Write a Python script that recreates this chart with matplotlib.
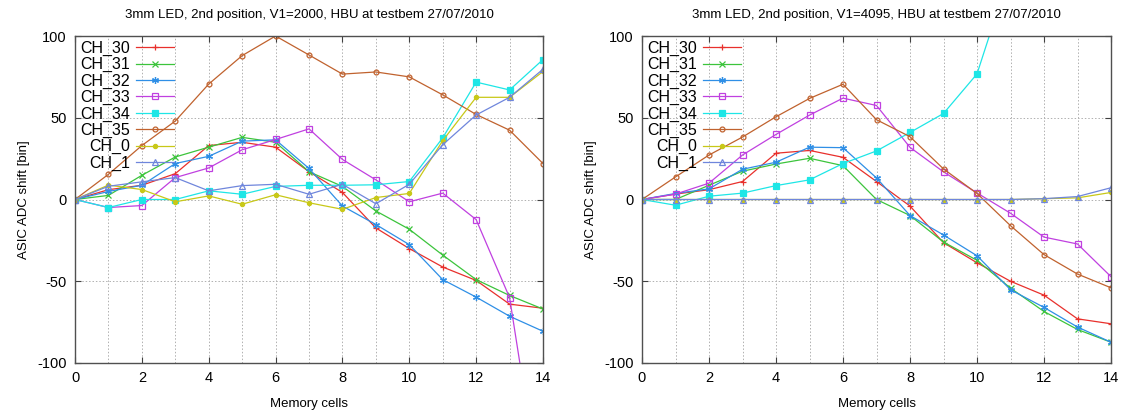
import matplotlib
matplotlib.use("Agg")
import matplotlib.pyplot as plt
from matplotlib.ticker import MultipleLocator

plt.rcParams['font.family'] = ['Liberation Sans', 'DejaVu Sans']
plt.rcParams['axes.unicode_minus'] = False

cells = list(range(15))
channels = ["CH_30", "CH_31", "CH_32", "CH_33", "CH_34", "CH_35", "CH_0", "CH_1"]

# Left panel: V1=2000
v2000_ch30 = [0, 6, 8.7, 15.8, 33, 35, 32, 17, 4.3, -17.4, -30, -41.3, -49.5, -64, -66.5]
v2000_ch31 = [0, 2.5, 14.8, 26, 32, 38, 35, 17, 8, -7, -18.2, -34, -49, -58.7, -67]
v2000_ch32 = [0, 4.9, 8.7, 22, 26.4, 35.7, 36.5, 19, -4, -15.3, -27.6, -49, -59.7, -71.4, -80.6]
v2000_ch33 = [0, -4.9, -3.7, 13.4, 19.3, 30.4, 36.7, 43.2, 24.5, 12, -1.4, 3.9, -12.3, -60, -190]
v2000_ch34 = [0, -4.9, 0, 0, 5.3, 3.2, 8, 8.7, 8.7, 9, 11, 37.7, 71.8, 67, 85.6]
v2000_ch35 = [0, 15.4, 33, 48, 70.6, 88, 100, 88.4, 76.7, 78, 75, 64, 52, 42.4, 22]
v2000_ch0 = [0, 8.8, 6.1, -1.4, 2.2, -2.9, 2.9, -2, -6, 1.2, 3.7, 36, 62.5, 62.5, 78.3]
v2000_ch1 = [0, 8.1, 10.8, 13.4, 5.3, 8.5, 9.3, 3.2, 9.3, -2.6, 9.3, 33.5, 51.7, 62.5, 79.7]

# Right panel: V1=4095
v4095_ch30 = [0, 3.3, 6, 11, 28.3, 30, 25.8, 11, -4, -26.4, -38.7, -50, -58.5, -73, -76]
v4095_ch31 = [0, 0, 8.7, 17.3, 21.7, 25.2, 20.7, 0, -9.8, -26, -37.2, -54.2, -68.5, -79.5, -87.3]
v4095_ch32 = [0, 3.7, 6.5, 18.5, 22.8, 32, 31.7, 13.2, -9.8, -21.7, -34.4, -55.2, -66, -78, -87.3]
v4095_ch33 = [0, 3.3, 10, 27.2, 39.8, 51.6, 62, 57.5, 31.9, 16.9, 4, -8.4, -23, -27.2, -47.2]
v4095_ch34 = [0, -3.5, 2, 3.9, 8.5, 12, 22, 29.7, 41, 52.6, 76.8, 140, 200, 260, 320]
v4095_ch35 = [0, 13.8, 27.2, 38.2, 50.6, 61.8, 70.5, 48.8, 38.4, 18.7, 3.7, -16, -33.7, -45.6, -54]
v4095_ch0 = [0, 0, 0, 0, 0, 0, 0, 0, 0, 0, 0, 0, 0.5, 1, 4.3]
v4095_ch1 = [0, 0, 0, 0, 0, 0, 0, 0, 0, 0, 0, 0, 0.5, 1.8, 7.2]

titles = ["3mm LED, 2nd position, V1=2000, HBU at testbem 27/07/2010",
          "3mm LED, 2nd position, V1=4095, HBU at testbem 27/07/2010"]
xlabel = "Memory cells"
ylabel = "ASIC ADC shift [bin]"

colors = ["#e8302c", "#3cc43c", "#2f8fe6", "#c040e0", "#1ee6e6", "#c0622e", "#c8c818", "#6f86dc"]
markers = ["+", "x", (6, 2, 0), "s", "s", "o", "o", "^"]
fills = ["full", "full", "full", "none", "full", "none", "full", "none"]
msizes = [5, 4, 5, 4, 4, 3.5, 3, 4]

panels = [
    [v2000_ch30, v2000_ch31, v2000_ch32, v2000_ch33, v2000_ch34, v2000_ch35, v2000_ch0, v2000_ch1],
    [v4095_ch30, v4095_ch31, v4095_ch32, v4095_ch33, v4095_ch34, v4095_ch35, v4095_ch0, v4095_ch1],
]

fig = plt.figure(figsize=(11.25, 4.16), dpi=100)
W, H = 1125, 416
rects = [(75, 36, 543, 363), (642, 36, 1111, 363)]

for i, (x0, y0, x1, y1) in enumerate(rects):
    ax = fig.add_axes([x0 / W, 1 - y1 / H, (x1 - x0) / W, (y1 - y0) / H])
    for j, series in enumerate(panels[i]):
        ax.plot(cells, series, color=colors[j], marker=markers[j], fillstyle=fills[j],
                markersize=msizes[j], markeredgewidth=0.9, linewidth=0.9,
                label=channels[j], clip_on=True)
    ax.set_xlim(0, 14)
    ax.set_ylim(-100, 100)
    ax.xaxis.set_major_locator(MultipleLocator(2))
    ax.xaxis.set_minor_locator(MultipleLocator(1))
    ax.yaxis.set_major_locator(MultipleLocator(50))
    ax.grid(True, which='both', axis='x', linestyle=(0, (1.5, 2)), color='#b0b0b0', linewidth=0.7)
    ax.grid(True, which='major', axis='y', linestyle=(0, (1.5, 2)), color='#b0b0b0', linewidth=0.7)
    ax.tick_params(which='both', direction='in', top=True, right=True, labelsize=10.5,
                   length=4, width=0.8, color='#404040', pad=6)
    ax.tick_params(which='minor', length=0)
    for s in ax.spines.values():
        s.set_color('#505050')
        s.set_linewidth(1.0)
    ax.set_title(titles[i], fontsize=9.5, pad=13)
    ax.set_xlabel(xlabel, fontsize=9.5, labelpad=9)
    ax.set_ylabel(ylabel, fontsize=9.5, labelpad=5)
    ax.legend(loc='upper left', markerfirst=False, frameon=False, fontsize=11.5,
              handlelength=2.4, handletextpad=0.4, labelspacing=0.08,
              borderaxespad=0.0, borderpad=0.3)

fig.savefig("out.png", dpi=100)
